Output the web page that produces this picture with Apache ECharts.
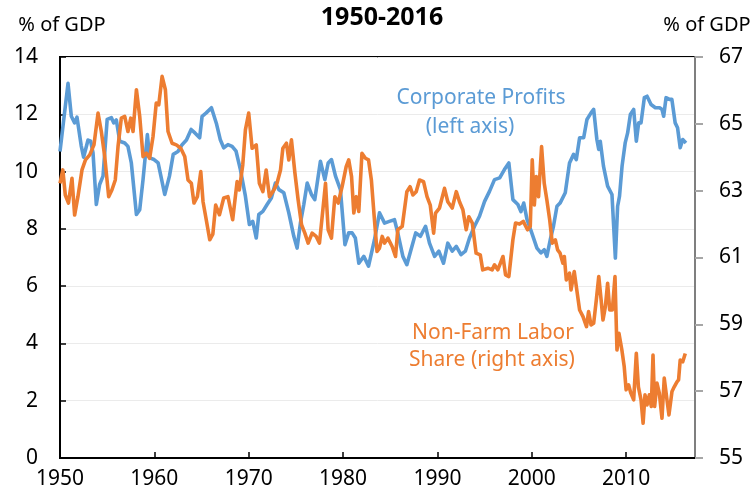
<!DOCTYPE html>
<html>
<head>
<meta charset="utf-8">
<script src="https://cdn.jsdelivr.net/npm/echarts@6/dist/echarts.min.js"></script>
<style>
  html, body { margin: 0; padding: 0; background: #fff; }
  #chart-container { width: 753px; height: 493px; }
</style>
</head>
<body>
<div id="chart-container"></div>
<script>
// Corporate profits, % of GDP (left axis)
var profitYears = [
  1950.0, 1950.85, 1951.2, 1951.55, 1951.8, 1952.25, 1952.5, 1952.97, 1953.25, 1953.5,
  1953.85, 1954.2, 1954.56, 1955.0, 1955.45, 1955.7, 1955.97, 1956.33, 1956.86, 1957.2,
  1957.56, 1958.1, 1958.45, 1958.8, 1959.26, 1959.5, 1959.97, 1960.4, 1961.1, 1961.6,
  1962.0, 1962.5, 1962.94, 1963.4, 1963.9, 1964.3, 1964.8, 1965.06, 1965.5, 1966.05,
  1966.6, 1967.0, 1967.35, 1967.8, 1968.24, 1968.66, 1969.12, 1969.65, 1970.07, 1970.43,
  1970.8, 1971.07, 1971.5, 1971.95, 1972.4, 1972.83, 1973.2, 1973.72, 1974.25, 1974.78,
  1975.13, 1975.48, 1975.84, 1976.2, 1976.65, 1977.0, 1977.6, 1978.07, 1978.42, 1978.77,
  1979.2, 1979.72, 1980.2, 1980.6, 1980.96, 1981.3, 1981.67, 1982.2, 1982.7, 1983.33,
  1983.86, 1984.4, 1984.9, 1985.45, 1985.8, 1986.34, 1986.76, 1987.2, 1987.7, 1988.2,
  1988.74, 1989.16, 1989.7, 1990.15, 1990.65, 1991.1, 1991.57, 1992.0, 1992.5, 1992.96,
  1993.4, 1993.93, 1994.46, 1995.0, 1995.52, 1996.05, 1996.6, 1997.1, 1997.57, 1998.0,
  1998.53, 1998.85, 1999.15, 1999.5, 2000.0, 2000.55, 2000.97, 2001.32, 2001.6, 2001.96,
  2002.3, 2002.67, 2003.0, 2003.55, 2004.0, 2004.43, 2004.72, 2005.07, 2005.5, 2005.85,
  2006.28, 2006.56, 2006.9, 2007.1, 2007.26, 2007.6, 2008.04, 2008.5, 2008.86, 2009.1,
  2009.3, 2009.57, 2009.9, 2010.16, 2010.45, 2010.8, 2011.08, 2011.33, 2011.58, 2011.93,
  2012.22, 2012.64, 2013.1, 2013.55, 2013.8, 2013.98, 2014.23, 2014.6, 2014.85, 2015.2,
  2015.45, 2015.73, 2016.0, 2016.34
];
var profitValues = [
  10.7, 13.08, 11.93, 11.7, 11.9, 10.9, 10.5, 11.1, 11.06, 10.65,
  8.85, 9.55, 9.84, 11.82, 11.88, 11.7, 11.8, 11.06, 11.0, 10.88,
  10.3, 8.5, 8.67, 9.72, 11.29, 10.48, 10.42, 10.3, 9.2, 9.84,
  10.6, 10.7, 10.94, 11.1, 11.47, 11.35, 11.18, 11.93, 12.05, 12.23,
  11.65, 11.1, 10.83, 10.94, 10.88, 10.71, 10.07, 9.14, 8.15, 8.26,
  7.68, 8.5, 8.61, 8.85, 9.08, 9.6, 9.37, 9.26, 8.56, 7.74,
  7.33, 8.2, 8.85, 9.6, 9.2, 9.02, 10.36, 9.72, 10.3, 10.42,
  9.84, 9.37, 7.45, 7.86, 7.86, 7.68, 6.8, 7.04, 6.7, 7.62,
  8.56, 8.2, 8.26, 8.32, 7.86, 7.04, 6.75, 7.27, 7.86, 7.74,
  8.09, 7.5, 7.04, 7.22, 6.8, 7.5, 7.22, 7.39, 7.1, 7.22,
  7.68, 8.09, 8.44, 8.96, 9.31, 9.72, 9.78, 10.07, 10.3, 9.02,
  8.85, 8.6, 8.9, 8.32, 7.86, 7.33, 7.16, 7.27, 7.04, 7.62,
  8.09, 8.79, 8.9, 9.26, 10.3, 10.6, 10.42, 11.18, 11.18, 11.82,
  12.05, 12.17, 11.12, 10.77, 11.06, 10.19, 9.49, 9.2, 6.98, 8.79,
  9.14, 10.19, 11.0, 11.35, 11.99, 12.17, 11.06, 11.7, 11.7, 12.58,
  12.63, 12.34, 12.23, 12.23, 12.17, 11.93, 12.58, 12.52, 12.52, 11.7,
  11.53, 10.83, 11.12, 11.0
];

// Non-farm labor share, % of GDP (right axis)
var laborYears = [
  1950.0, 1950.3, 1950.56, 1950.9, 1951.27, 1951.55, 1951.9, 1952.33, 1952.7, 1953.15,
  1953.6, 1954.03, 1954.38, 1954.74, 1955.16, 1955.5, 1955.86, 1956.15, 1956.5, 1956.86,
  1957.2, 1957.5, 1957.74, 1958.1, 1958.45, 1958.8, 1959.15, 1959.5, 1959.86, 1960.2,
  1960.47, 1960.82, 1961.17, 1961.45, 1961.88, 1962.33, 1962.8, 1963.22, 1963.57, 1963.92,
  1964.2, 1964.56, 1964.92, 1965.16, 1965.5, 1965.87, 1966.2, 1966.5, 1966.9, 1967.35,
  1967.8, 1968.3, 1968.77, 1969.0, 1969.37, 1969.65, 1970.0, 1970.36, 1970.8, 1971.13,
  1971.5, 1971.85, 1972.2, 1972.67, 1973.0, 1973.37, 1973.62, 1974.0, 1974.25, 1974.53,
  1974.9, 1975.24, 1975.6, 1975.95, 1976.3, 1976.72, 1977.15, 1977.5, 1977.86, 1978.14,
  1978.42, 1978.77, 1979.13, 1979.48, 1979.9, 1980.33, 1980.6, 1980.9, 1981.14, 1981.4,
  1981.67, 1982.0, 1982.37, 1982.7, 1983.0, 1983.3, 1983.6, 1983.86, 1984.15, 1984.4,
  1984.75, 1985.2, 1985.56, 1985.8, 1986.27, 1986.76, 1987.1, 1987.4, 1987.75, 1988.1,
  1988.53, 1988.9, 1989.24, 1989.6, 1989.8, 1990.22, 1990.75, 1991.1, 1991.57, 1992.0,
  1992.34, 1992.7, 1993.05, 1993.33, 1993.7, 1994.1, 1994.54, 1994.8, 1995.35, 1995.8,
  1996.05, 1996.4, 1996.95, 1997.22, 1997.57, 1998.0, 1998.28, 1998.7, 1999.1, 1999.55,
  1999.84, 2000.05, 2000.27, 2000.48, 2000.72, 2001.04, 2001.32, 2001.6, 2001.9, 2002.17,
  2002.5, 2002.74, 2003.0, 2003.3, 2003.45, 2003.66, 2004.0, 2004.16, 2004.5, 2004.72,
  2005.07, 2005.43, 2005.8, 2006.02, 2006.28, 2006.56, 2006.84, 2007.1, 2007.35, 2007.55,
  2007.8, 2008.04, 2008.26, 2008.54, 2008.82, 2009.03, 2009.24, 2009.55, 2009.8, 2010.0,
  2010.26, 2010.5, 2010.8, 2011.08, 2011.3, 2011.58, 2011.8, 2012.0, 2012.22, 2012.46,
  2012.67, 2012.85, 2013.02, 2013.27, 2013.52, 2013.8, 2014.04, 2014.33, 2014.54, 2014.86,
  2015.1, 2015.39, 2015.56, 2015.73, 2016.0, 2016.27
];
var laborValues = [
  63.22, 63.62, 62.87, 62.63, 63.37, 62.27, 62.82, 63.62, 63.92, 64.07,
  64.37, 65.32, 64.77, 64.02, 62.82, 63.02, 63.32, 64.32, 65.17, 65.22,
  64.77, 65.17, 64.77, 66.02, 65.22, 64.02, 64.12, 63.97, 64.62, 65.62,
  65.57, 66.42, 66.02, 64.77, 64.42, 64.37, 64.27, 64.02, 63.32, 63.22,
  62.63, 62.82, 63.57, 62.67, 62.13, 61.53, 61.7, 62.57, 62.28, 62.78,
  62.82, 62.13, 63.27, 63.02, 63.77, 64.82, 65.32, 64.27, 64.37, 63.22,
  62.97, 63.62, 62.82, 63.02, 63.22, 63.62, 64.27, 64.42, 63.92, 64.52,
  63.52, 62.72, 61.98, 61.73, 61.43, 61.73, 61.63, 61.43, 62.43, 63.22,
  61.83, 61.58, 62.82, 62.63, 63.12, 63.72, 63.92, 63.42, 62.33, 62.82,
  62.38, 64.12, 63.97, 63.92, 63.32, 62.22, 61.18, 61.28, 61.63, 61.43,
  61.58, 61.33, 61.03, 61.83, 61.93, 62.97, 63.12, 62.87, 62.97, 63.32,
  63.27, 62.82, 62.57, 61.73, 62.33, 62.48, 63.07, 62.67, 62.48, 62.97,
  62.67, 62.43, 61.83, 62.22, 62.03, 61.13, 61.08, 60.63, 60.68, 60.63,
  60.78, 60.63, 61.03, 60.48, 60.43, 61.53, 62.03, 62.0, 62.08, 61.83,
  61.93, 63.92, 62.57, 63.42, 62.82, 64.32, 63.22, 62.72, 62.13, 61.43,
  61.53, 61.23, 61.13, 60.83, 61.03, 60.33, 60.53, 60.03, 60.58, 60.13,
  59.43, 59.23, 58.93, 59.38, 58.98, 59.03, 59.73, 60.43, 59.73, 59.13,
  59.53, 60.23, 59.43, 59.43, 60.43, 58.23, 58.73, 58.23, 57.73, 57.04,
  57.19, 56.94, 56.74, 58.13, 57.13, 56.74, 56.04, 56.89, 56.59, 56.89,
  56.54, 58.08, 56.54, 57.24, 56.94, 56.19, 57.39, 56.74, 56.29, 56.99,
  57.13, 57.28, 57.34, 57.93, 57.88, 58.13
];

var xTicks = [1950, 1960, 1970, 1980, 1990, 2000, 2010];

function zip(xs, ys) {
  return xs.map(function (x, i) { return [x, ys[i]]; });
}

var FONT = '"Noto Sans", sans-serif';
var BLUE = '#5B9BD5';
var ORANGE = '#ED7D31';

var dom = document.getElementById('chart-container');
var myChart = echarts.init(dom, null, { renderer: 'canvas' });

var option = {
  animation: false,
  backgroundColor: '#fff',
  textStyle: { fontFamily: FONT },
  grid: {
    left: 60, right: 58, top: 57, bottom: 35,
    show: true, borderColor: '#000', borderWidth: 2
  },
  xAxis: {
    type: 'value',
    min: 1950,
    max: 2017.3,
    interval: 10,
    axisLine: { lineStyle: { color: '#000', width: 2 } },
    axisTick: { inside: true, length: 6, lineStyle: { color: '#000', width: 1.5 } },
    axisLabel: {
      margin: 11, fontSize: 21, color: '#000', fontFamily: FONT,
      showMaxLabel: false,
      formatter: function (v) { return xTicks.indexOf(v) >= 0 ? String(v) : ''; }
    },
    splitLine: { show: false }
  },
  yAxis: [{
    type: 'value',
    position: 'left',
    min: 0, max: 14, interval: 2,
    axisLine: { show: true, lineStyle: { color: '#000', width: 2 } },
    axisTick: { show: true, inside: true, length: 6, lineStyle: { color: '#000', width: 1.5 } },
    axisLabel: { margin: 22, fontSize: 21, color: '#000', fontFamily: FONT },
    splitLine: { show: true, lineStyle: { color: '#EBEBEB', width: 1 } }
  }, {
    type: 'value',
    position: 'right',
    min: 55, max: 67, interval: 2,
    axisLine: { show: true, lineStyle: { color: '#7F7F7F', width: 2 } },
    axisTick: { show: true, inside: false, length: 8, lineStyle: { color: '#A6A6A6', width: 2 } },
    axisLabel: { margin: 24, fontSize: 21, color: '#000', fontFamily: FONT },
    splitLine: { show: false }
  }],
  series: [{
    name: 'Corporate Profits',
    type: 'line',
    yAxisIndex: 0,
    data: zip(profitYears, profitValues),
    showSymbol: false,
    symbol: 'none',
    lineStyle: { color: BLUE, width: 3.6, join: 'round' },
    z: 2
  }, {
    name: 'Non-Farm Labor Share',
    type: 'line',
    yAxisIndex: 1,
    data: zip(laborYears, laborValues),
    showSymbol: false,
    symbol: 'none',
    lineStyle: { color: ORANGE, width: 3.6, join: 'round' },
    z: 3
  }],
  graphic: [
    { type: 'text', x: 382, y: 18, style: { text: '1950-2016', fill: '#000', font: 'bold 25px ' + FONT, textAlign: 'center', textVerticalAlign: 'middle' } },
    { type: 'text', x: 62, y: 25, style: { text: '% of GDP', fill: '#000', font: '20px ' + FONT, textAlign: 'center', textVerticalAlign: 'middle' } },
    { type: 'text', x: 707, y: 25, style: { text: '% of GDP', fill: '#000', font: '20px ' + FONT, textAlign: 'center', textVerticalAlign: 'middle' } },
    { type: 'text', x: 481, y: 98, style: { text: 'Corporate Profits', fill: BLUE, font: '21px ' + FONT, textAlign: 'center', textVerticalAlign: 'middle' } },
    { type: 'text', x: 470, y: 127, style: { text: '(left axis)', fill: BLUE, font: '21px ' + FONT, textAlign: 'center', textVerticalAlign: 'middle' } },
    { type: 'text', x: 493, y: 333, style: { text: 'Non-Farm Labor', fill: ORANGE, font: '21px ' + FONT, textAlign: 'center', textVerticalAlign: 'middle' } },
    { type: 'text', x: 492, y: 360, style: { text: 'Share (right axis)', fill: ORANGE, font: '21px ' + FONT, textAlign: 'center', textVerticalAlign: 'middle' } }
  ]
};

myChart.setOption(option);
window.addEventListener('resize', myChart.resize);
</script>
</body>
</html>
